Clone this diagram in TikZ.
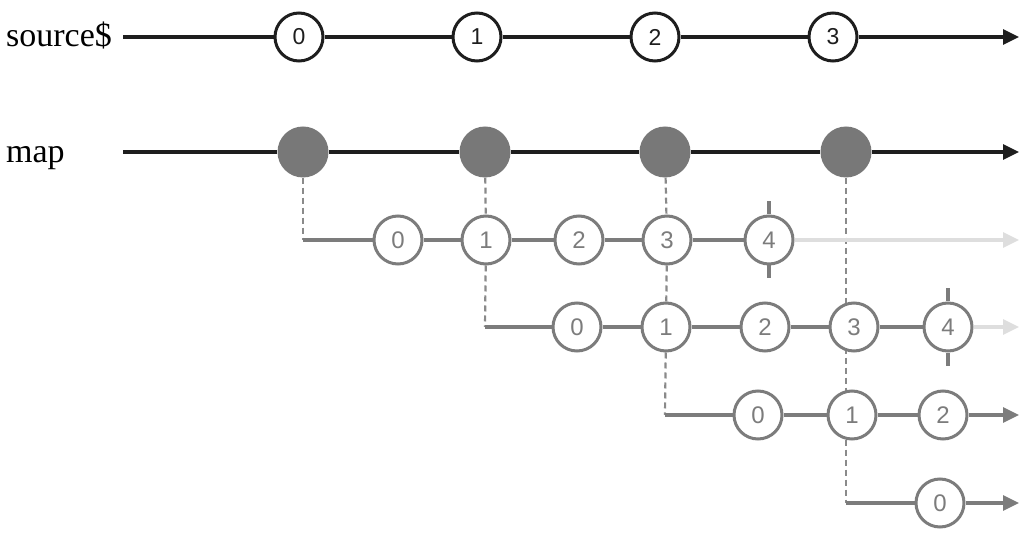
\documentclass[tikz,border=0pt]{standalone}
\usepackage{fontspec}
\setmainfont{Liberation Serif}
\newfontfamily\circfont{Liberation Sans}
\usetikzlibrary{arrows.meta,backgrounds}
\definecolor{lineblack}{HTML}{1E1E1E}
\definecolor{midgray}{HTML}{7C7C7C}
\definecolor{fillgray}{HTML}{787878}
\definecolor{lightgray}{HTML}{DEDEDE}
\definecolor{dashgray}{HTML}{8A8A8A}
\tikzset{
  blackball/.style={circle,draw=lineblack,line width=3pt,fill=white,minimum size=48pt,inner sep=0pt,font=\circfont\fontsize{23}{23}\selectfont,text=lineblack},
  grayball/.style={circle,draw=midgray,line width=3pt,fill=white,minimum size=48pt,inner sep=0pt,font=\circfont\fontsize{24}{24}\selectfont,text=midgray},
  mapball/.style={circle,fill=fillgray,draw=none,minimum size=51pt,inner sep=0pt},
  blackline/.style={draw=lineblack,line width=3.2pt},
  grayline/.style={draw=midgray,line width=3.2pt},
  lightline/.style={draw=lightgray,line width=3.2pt},
  dashline/.style={draw=dashgray,line width=2.2pt,dash pattern=on 6pt off 4pt},
  tipb/.style={-{Triangle[length=16pt,width=15pt]}},
  label/.style={font=\fontsize{34}{34}\selectfont,anchor=base west,inner sep=0pt},
}
\begin{document}
\begin{tikzpicture}[x=1pt,y=-1pt]
\useasboundingbox (0,0) rectangle (1028,537);
% labels
\node[label] (lsrc) at (6,47) {source\$};
\node[label] (lmap) at (6,163) {map};
% top row
\node[blackball] (s0) at (299,37) {0};
\node[blackball] (s1) at (477,37) {1};
\node[blackball] (s2) at (655,37) {2};
\node[blackball] (s3) at (833,37) {3};
\coordinate (sstart) at (123,37);
\coordinate (send) at (1019,37);
% map row
\node[mapball] (m0) at (303,152) {};
\node[mapball] (m1) at (485,152) {};
\node[mapball] (m2) at (665,152) {};
\node[mapball] (m3) at (846,152) {};
\coordinate (mstart) at (123,152);
\coordinate (mend) at (1019,152);
% row a
\coordinate (astart) at (303,240);
\node[grayball] (a0) at (398,240) {0};
\node[grayball] (a1) at (486,240) {1};
\node[grayball] (a2) at (579,240) {2};
\node[grayball] (a3) at (667,240) {3};
\node[grayball] (a4) at (769,240) {4};
\coordinate (aend) at (1019,240);
% row b
\coordinate (bstart) at (485,327);
\node[grayball] (b0) at (577,327) {0};
\node[grayball] (b1) at (666,327) {1};
\node[grayball] (b2) at (765,327) {2};
\node[grayball] (b3) at (854,327) {3};
\node[grayball] (b4) at (948,327) {4};
\coordinate (bend) at (1019,327);
% row c
\coordinate (cstart) at (665,415);
\node[grayball] (c0) at (758,415) {0};
\node[grayball] (c1) at (852,415) {1};
\node[grayball] (c2) at (943,415) {2};
\coordinate (cend) at (1019,415);
% row d
\coordinate (dstart) at (846,503);
\node[grayball] (d0) at (940,503) {0};
\coordinate (dend) at (1019,503);

\begin{scope}[on background layer]
% top rows
\draw[blackline] (sstart) -- (s0);
\draw[blackline] (s0) -- (s1);
\draw[blackline] (s1) -- (s2);
\draw[blackline] (s2) -- (s3);
\draw[blackline,tipb] (s3) -- (send);
\draw[blackline] (mstart) -- (m0);
\draw[blackline] (m0) -- (m1);
\draw[blackline] (m1) -- (m2);
\draw[blackline] (m2) -- (m3);
\draw[blackline,tipb] (m3) -- (mend);
% dashed drops
\draw[dashline] (m0) -- (astart);
\draw[dashline] (m1) -- (a1);
\draw[dashline] (a1) -- (bstart);
\draw[dashline] (m2) -- (a3);
\draw[dashline] (a3) -- (b1);
\draw[dashline] (b1) -- (cstart);
\draw[dashline] (m3) -- (cend -| m3);
\draw[dashline] (m3 |- c1.north) -- (dstart);
% row a
\draw[grayline] (astart) -- (a0);
\draw[grayline] (a0) -- (a1);
\draw[grayline] (a1) -- (a2);
\draw[grayline] (a2) -- (a3);
\draw[grayline] (a3) -- (a4);
\draw[lightline,tipb] (a4) -- (aend);
\draw[grayline] (a4.north) -- ++(0,-13);
\draw[grayline] (a4.south) -- ++(0,13);
% row b
\draw[grayline] (bstart) -- (b0);
\draw[grayline] (b0) -- (b1);
\draw[grayline] (b1) -- (b2);
\draw[grayline] (b2) -- (b3);
\draw[grayline] (b3) -- (b4);
\draw[lightline,tipb] (b4) -- (bend);
\draw[grayline] (b4.north) -- ++(0,-13);
\draw[grayline] (b4.south) -- ++(0,13);
% row c
\draw[grayline] (cstart) -- (c0);
\draw[grayline] (c0) -- (c1);
\draw[grayline] (c1) -- (c2);
\draw[grayline,tipb] (c2) -- (cend);
% row d
\draw[grayline] (dstart) -- (d0);
\draw[grayline,tipb] (d0) -- (dend);
\end{scope}
\end{tikzpicture}
\end{document}
